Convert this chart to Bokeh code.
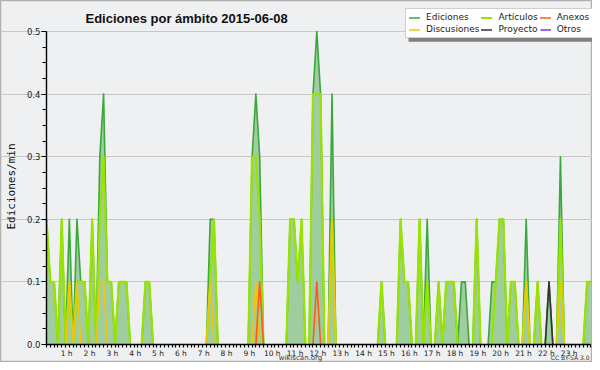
import math
from bokeh.plotting import figure
from bokeh.models import (FixedTicker, Legend, LegendItem, Label, BoxAnnotation,
                          Range1d, PrintfTickFormatter, ColumnDataSource)
from bokeh.embed import file_html
from bokeh.resources import INLINE

# 10-minute slots over the day (6 per hour), values in edits/min
hour_labels = [f"{h} h" for h in range(1, 24)]
slots_per_hour = 6

ediciones = [
    0.2, 0.1, 0.1, 0, 0.2, 0,        # 0 h
    0.2, 0, 0.2, 0.1, 0.1, 0,        # 1 h
    0.2, 0, 0.3, 0.4, 0.1, 0.1,      # 2 h
    0, 0.1, 0.1, 0.1, 0, 0,          # 3 h
    0, 0, 0.1, 0.1, 0, 0,            # 4 h
    0, 0, 0, 0, 0, 0,                # 5 h
    0, 0, 0, 0, 0, 0,                # 6 h
    0, 0.2, 0.2, 0, 0, 0,            # 7 h
    0, 0, 0, 0, 0, 0,                # 8 h
    0.3, 0.4, 0.3, 0, 0, 0,          # 9 h
    0, 0, 0, 0, 0.2, 0.2,            # 10 h
    0.1, 0.2, 0, 0, 0.4, 0.5,        # 11 h
    0.4, 0, 0, 0.4, 0, 0,            # 12 h
    0, 0, 0, 0, 0, 0,                # 13 h
    0, 0, 0, 0, 0.1, 0,              # 14 h
    0, 0, 0, 0.2, 0.1, 0.1,          # 15 h
    0, 0, 0.2, 0, 0.2, 0,            # 16 h
    0, 0.1, 0, 0.1, 0.1, 0.1,        # 17 h
    0, 0.1, 0.1, 0, 0, 0.2,          # 18 h
    0, 0, 0, 0.1, 0.1, 0.2,          # 19 h
    0.2, 0, 0.1, 0.1, 0, 0,          # 20 h
    0.2, 0, 0, 0.1, 0, 0,            # 21 h
    0.1, 0, 0, 0.3, 0, 0,            # 22 h
    0, 0, 0, 0, 0.1, 0.1,            # 23 h
]

articulos = [
    0.2, 0.1, 0.1, 0, 0.2, 0,
    0.1, 0, 0.1, 0.1, 0.1, 0,
    0.2, 0, 0.2, 0.3, 0.1, 0.1,
    0, 0.1, 0.1, 0.1, 0, 0,
    0, 0, 0.1, 0.1, 0, 0,
    0, 0, 0, 0, 0, 0,
    0, 0, 0, 0, 0, 0,
    0, 0.1, 0.2, 0, 0, 0,
    0, 0, 0, 0, 0, 0,
    0.3, 0.3, 0.2, 0, 0, 0,
    0, 0, 0, 0, 0.2, 0.2,
    0.1, 0.2, 0, 0, 0.4, 0.4,
    0.4, 0, 0, 0.2, 0, 0,
    0, 0, 0, 0, 0, 0,
    0, 0, 0, 0, 0.1, 0,
    0, 0, 0, 0.2, 0.1, 0.1,
    0, 0, 0.2, 0, 0.1, 0,
    0, 0.1, 0, 0.1, 0.1, 0.1,
    0, 0, 0, 0, 0, 0.2,
    0, 0, 0, 0, 0.1, 0.2,
    0.2, 0, 0.1, 0.1, 0, 0,
    0.1, 0, 0, 0.1, 0, 0,
    0, 0, 0, 0.2, 0, 0,
    0, 0, 0, 0, 0.1, 0.1,
]

anexos = [0] * 144
anexos[56] = 0.1
anexos[71] = 0.1

discusiones = [0] * 144
for i, v in [(6, 0.1), (8, 0.1), (14, 0.1), (15, 0.1), (43, 0.1),
             (55, 0.1), (75, 0.2), (126, 0.1), (135, 0.1)]:
    discusiones[i] = v

proyecto = [0] * 144
proyecto[132] = 0.1

otros = [0] * 144

y_ticks = [0.0, 0.1, 0.2, 0.3, 0.4, 0.5]

x = list(range(len(ediciones)))
n_last = len(x) - 1


def runs(vals):
    """Split a series into polylines, leaving out flat stretches at zero."""
    xs, ys = [], []
    cx, cy = [], []
    for i in range(len(vals) - 1):
        active = not (vals[i] == 0 and vals[i + 1] == 0)
        if active:
            if not cx:
                cx, cy = [x[i]], [vals[i]]
            cx.append(x[i + 1])
            cy.append(vals[i + 1])
        else:
            if cx:
                xs.append(cx)
                ys.append(cy)
            cx, cy = [], []
    if cx:
        xs.append(cx)
        ys.append(cy)
    return xs, ys


def masked(vals):
    """Values with flat zero stretches blanked out (NaN)."""
    out = []
    for i, v in enumerate(vals):
        lft = vals[i - 1] if i > 0 else 0
        rgt = vals[i + 1] if i < len(vals) - 1 else 0
        out.append(float("nan") if (v == 0 and lft == 0 and rgt == 0) else v)
    return out


# ---- layout: the frame covers the whole canvas; axes are pinned inside it
W, H = 592, 362
left_px, right_px = 46.0, 590.4
top_px, bottom_px = 31.0, 344.0
ppx = (right_px - left_px) / n_last
ppy = (bottom_px - top_px) / 0.5
x_start = -left_px / ppx
x_end = n_last + (W - right_px) / ppx
y_start = -(H - bottom_px) / ppy
y_end = 0.5 + top_px / ppy

p = figure(width=W, height=H, output_backend="svg", toolbar_location=None,
           x_range=Range1d(x_start, x_end), y_range=Range1d(y_start, y_end),
           min_border=0)
p.min_border_left = p.min_border_right = 0
p.min_border_top = p.min_border_bottom = 0
p.title.visible = False
p.background_fill_color = "#eff0f1"
p.border_fill_color = "#eff0f1"
p.outline_line_color = "#b0b0b0"
p.outline_line_width = 1.5

# axes
p.xaxis.fixed_location = 0
p.xaxis.bounds = (0, n_last)
label_shift = 0.7
p.xaxis.ticker = FixedTicker(
    ticks=[slots_per_hour * h - label_shift for h in range(1, 24)],
    minor_ticks=list(range(0, len(x))))
p.xaxis.major_label_overrides = {slots_per_hour * (i + 1) - label_shift: lab
                                 for i, lab in enumerate(hour_labels)}
p.xaxis.major_tick_in = 0
p.xaxis.major_tick_out = 0
p.xaxis.minor_tick_in = 0
p.xaxis.minor_tick_out = 3
p.xaxis.major_label_standoff = 1
p.xaxis.major_label_text_font = "DejaVu Sans"
p.xaxis.major_label_text_font_size = "7.5px"
p.xaxis.major_label_text_color = "#222222"
p.xaxis.axis_line_color = "black"
p.xaxis.axis_line_width = 1.4
p.xaxis.minor_tick_line_width = 1.2
p.xaxis.minor_tick_line_color = "black"

p.yaxis.fixed_location = 0
p.yaxis.bounds = (0, 0.5)
p.yaxis.ticker = FixedTicker(ticks=y_ticks,
                             minor_ticks=[i * 0.025 for i in range(21)])
p.yaxis.formatter = PrintfTickFormatter(format="%.1f")
p.yaxis.major_tick_in = 0
p.yaxis.major_tick_out = 5
p.yaxis.minor_tick_in = 0
p.yaxis.minor_tick_out = 4
p.yaxis.major_label_standoff = 1
p.yaxis.major_label_text_font = "DejaVu Sans"
p.yaxis.major_label_text_font_size = "8.5px"
p.yaxis.major_label_text_color = "#222222"
p.yaxis.axis_line_color = "black"
p.yaxis.axis_line_width = 1.4

p.xgrid.visible = False
p.ygrid.ticker = FixedTicker(ticks=y_ticks[1:])
p.ygrid.bounds = (0, n_last)
p.ygrid.grid_line_color = "#c8c8c8"
p.ygrid.grid_line_width = 1

# filled total
src = ColumnDataSource(dict(x=x, y=ediciones))
p.varea(x="x", y1=0, y2="y", source=src, fill_color="#a0cda0", fill_alpha=1)

series = [
    ("Ediciones", ediciones, "#3aa83a", 1.6),
    ("Artículos", articulos, "#98e400", 2.2),
    ("Discusiones", discusiones, "#f2c600", 1.6),
    ("Anexos", anexos, "#ff5a1a", 1.6),
    ("Proyecto", proyecto, "#333333", 1.6),
    ("Otros", otros, "#8a3ee0", 1.6),
]
rend = {}
for name, vals, col, lw in series:
    if any(v != 0 for v in vals):
        xs, ys = runs(vals)
        r = p.multi_line(xs=xs, ys=ys, line_color=col, line_width=lw,
                         line_join="round", line_cap="round")
    else:
        r = p.line(x=x, y=masked(vals), line_color=col, line_width=lw)
    rend[name] = r

# legend shadow + legend (top right)
leg_left, leg_top, leg_bottom = 405.0, 12.3, 38.3
leg_w = 187.0
shadow = BoxAnnotation(left=leg_left + 3, right=leg_left + 3 + leg_w,
                       top=H - leg_top - 3, bottom=H - leg_bottom - 3,
                       left_units="screen", right_units="screen",
                       top_units="screen", bottom_units="screen",
                       fill_color="#808080", fill_alpha=1, line_color=None)
p.add_layout(shadow)

order = ["Ediciones", "Artículos", "Anexos", "Discusiones", "Proyecto", "Otros"]
legend = Legend(items=[LegendItem(label=n, renderers=[rend[n]]) for n in order],
                location=(leg_left, H - leg_bottom),
                orientation="horizontal", ncols=3,
                label_text_font="DejaVu Sans", label_text_font_size="9px",
                label_text_color="#222222", glyph_width=11, glyph_height=9,
                label_height=9, label_standoff=6, spacing=2, padding=3,
                margin=0, border_line_color="#a0a0a0", border_line_width=1,
                background_fill_color="white", background_fill_alpha=1)
p.add_layout(legend, "center")

# texts
p.add_layout(Label(x=85, y=H - 18.3, x_units="screen", y_units="screen",
                   text="Ediciones por ámbito  2015-06-08",
                   text_font="Liberation Sans", text_font_size="13px",
                   text_font_style="bold", text_color="#111111",
                   text_align="left", text_baseline="alphabetic"))
p.add_layout(Label(x=10.5, y=H - 186, x_units="screen", y_units="screen",
                   text="Ediciones/min", angle=math.pi / 2,
                   text_font="DejaVu Sans Mono", text_font_size="11px",
                   text_color="#111111", text_align="center",
                   text_baseline="middle"))
p.add_layout(Label(x=300, y=H - 357.3, x_units="screen", y_units="screen",
                   text="wikiscan.org", text_font="DejaVu Sans",
                   text_font_size="7px", text_color="#333333",
                   text_align="center", text_baseline="alphabetic"))
p.add_layout(Label(x=589, y=H - 357.3, x_units="screen", y_units="screen",
                   text="CC BY-SA 3.0", text_font="DejaVu Sans",
                   text_font_size="6px", text_color="#333333",
                   text_align="right", text_baseline="alphabetic"))

open("out.html", "w").write(file_html(p, INLINE))
